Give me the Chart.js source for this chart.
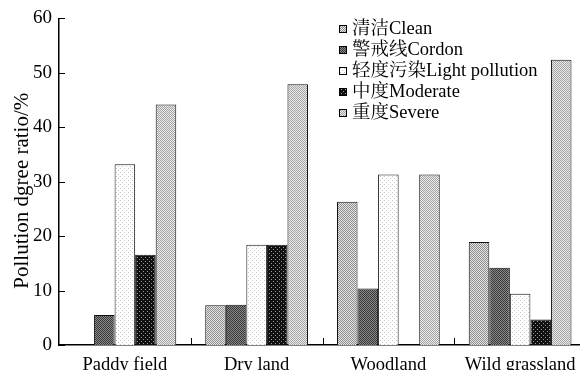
<!DOCTYPE html>
<html>
<head>
<meta charset="utf-8">
<script src="https://cdn.jsdelivr.net/npm/chart.js@4"></script>
<style>
    html, body { margin: 0; padding: 0; background: #fff; }
    #wrap { width: 580px; height: 370px; overflow: hidden; position: relative; }
    #chart { display: block; }
</style>
</head>
<body>
<div id="wrap"><canvas id="chart" width="610" height="385"></canvas></div>
<script>
const categories = ['Paddy field', 'Dry land', 'Woodland', 'Wild grassland'];
const seriesNames = ['清洁Clean', '警戒线Cordon', '轻度污染Light pollution', '中度Moderate', '重度Severe'];
// null = no bar drawn in the figure
const clean    = [null, 7.3, 26.3, 18.9];
const cordon   = [5.5, 7.4, 10.4, 14.2];
const light    = [33.2, 18.4, 31.3, 9.4];
const moderate = [16.6, 18.4, null, 4.7];
const severe   = [44.2, 47.9, 31.3, 52.4];
const yTicks = [0, 10, 20, 30, 40, 50, 60];
const yTitle = 'Pollution dgree ratio/%';

const FONT = "'Liberation Serif', 'Times New Roman', 'Noto Serif CJK SC', 'Noto Sans CJK SC', serif";

const checker = [[0,0],[2,0],[1,1],[3,1],[0,2],[2,2],[1,3],[3,3]];

function makePattern(bg, fg, cells) {
    let c = document.createElement('canvas');
    c.width = 4; c.height = 4;
    let x = c.getContext('2d');
    x.fillStyle = bg;
    x.fillRect(0, 0, 4, 4);
    x.fillStyle = fg;
    cells.forEach(([i, j]) => x.fillRect(i, j, 1, 1));
    return x.createPattern(c, 'repeat');
}

const fills = [
    makePattern('#e4e4e4', '#8e8e8e', checker),
    makePattern('#8a8a8a', '#383838', checker),
    makePattern('#ffffff', '#c4c4c4', [[0,0],[2,2]]),
    makePattern('#101010', '#9a9a9a', [[1,1],[3,3]]),
    makePattern('#ececec', '#a2a2a2', checker)
];
const seriesData = [clean, cordon, light, moderate, severe];

// ticks point inward, legend sits inside the plot, y title a bit below centre
const extras = {
    id: 'extras',
    afterDraw(chart) {
        const ctx = chart.ctx;
        const xs = chart.scales.x, ys = chart.scales.y;
        const area = chart.chartArea;
        ctx.save();
        ctx.strokeStyle = '#000';
        ctx.lineWidth = 1;
        yTicks.forEach(v => {
            const py = Math.round(ys.getPixelForValue(v)) + 0.5;
            ctx.beginPath();
            ctx.moveTo(area.left, py);
            ctx.lineTo(area.left + 6, py);
            ctx.stroke();
        });
        const half = (xs.getPixelForValue(1) - xs.getPixelForValue(0)) / 2;
        for (let i = 1; i < categories.length; i++) {
            const px = Math.round(xs.getPixelForValue(i) - half) + 0.5;
            ctx.beginPath();
            ctx.moveTo(px, area.bottom);
            ctx.lineTo(px, area.bottom - 7);
            ctx.stroke();
        }

        // y title
        ctx.fillStyle = '#000';
        ctx.font = '21px ' + FONT;
        ctx.textAlign = 'center';
        ctx.textBaseline = 'middle';
        ctx.save();
        ctx.translate(22, (area.top + area.bottom) / 2 + 9);
        ctx.rotate(-Math.PI / 2);
        ctx.fillText(yTitle, 0, 0);
        ctx.restore();

        // legend
        ctx.font = '18.5px ' + FONT;
        ctx.textAlign = 'left';
        chart.data.datasets.forEach((ds, i) => {
            const cy = 29 + i * 21;
            ctx.fillStyle = ds.backgroundColor;
            ctx.fillRect(339, cy - 4, 8, 8);
            ctx.strokeStyle = '#000';
            ctx.strokeRect(339.5, cy - 3.5, 7, 7);
            ctx.fillStyle = '#000';
            ctx.fillText(ds.label, 352, cy);
        });
        ctx.restore();
    }
};

new Chart(document.getElementById('chart'), {
    type: 'bar',
    data: {
        labels: categories,
        datasets: seriesNames.map((name, i) => ({
            label: name,
            data: seriesData[i],
            backgroundColor: fills[i],
            borderColor: '#111',
            borderWidth: 1,
            borderSkipped: 'bottom',
            categoryPercentage: 0.78,
            barPercentage: 1
        }))
    },
    options: {
        responsive: false,
        animation: false,
        devicePixelRatio: 1,
        layout: { padding: { left: 0, top: 16, right: 24, bottom: 0 } },
        scales: {
            x: {
                grid: { display: false, drawTicks: false },
                border: { color: '#000', width: 1.5 },
                ticks: { color: '#000', padding: 9, font: { family: FONT, size: 18.5 } },
                afterFit(scale) { scale.height = 40; }
            },
            y: {
                min: 0,
                max: 60,
                grid: { display: false, drawTicks: false },
                border: { color: '#000', width: 1.5 },
                ticks: { stepSize: 10, color: '#000', padding: 7, font: { family: FONT, size: 19 } },
                afterFit(scale) { scale.width = 59; }
            }
        },
        plugins: {
            legend: { display: false },
            tooltip: { enabled: false }
        }
    },
    plugins: [extras]
});
</script>
</body>
</html>
